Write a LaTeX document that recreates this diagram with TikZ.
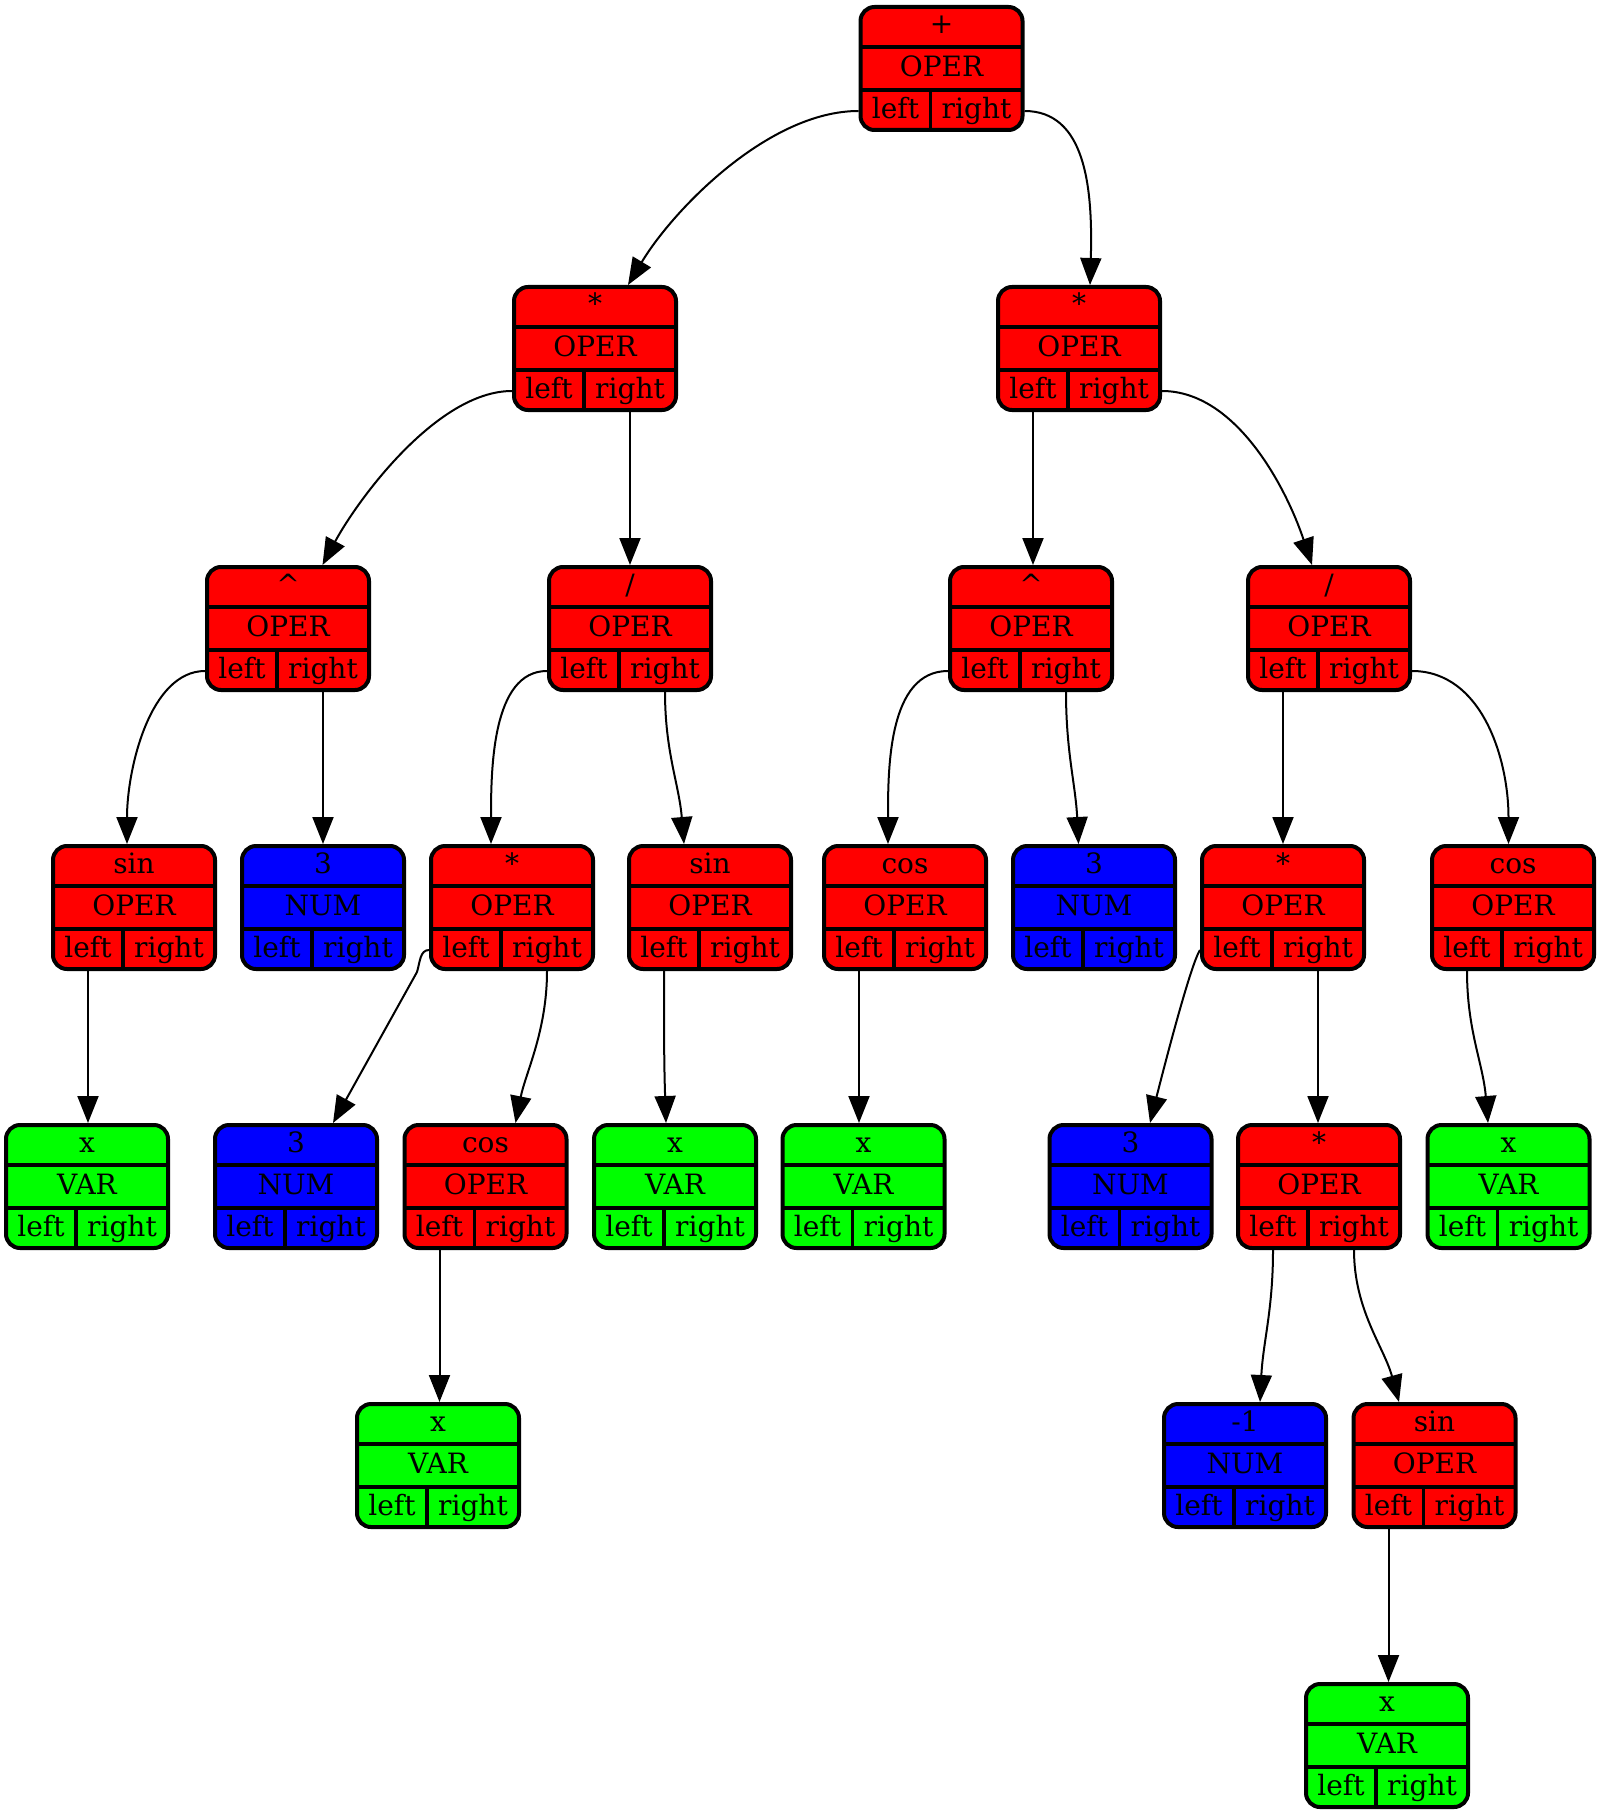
\documentclass[tikz,border=0pt]{standalone}
\usepackage{fontspec}
\setmainfont{DejaVu Serif}
\usetikzlibrary{calc,arrows.meta}
\definecolor{gvred}{RGB}{255,0,0}
\definecolor{gvblue}{RGB}{0,0,255}
\definecolor{gvgreen}{RGB}{0,255,0}
\tikzset{
 recbox/.style={draw=black, line width=2pt, rounded corners=7pt, minimum width=81pt, minimum height=61.5pt, inner sep=0pt},
 divider/.style={draw=black, line width=1.8pt},
 rectext/.style={anchor=base, inner sep=0pt, font=\fontsize{14pt}{16pt}\selectfont},
 link/.style={draw=black, line width=1pt, -{Triangle[length=13.5pt,width=10.5pt]}},
}
\newcommand\recnode[6]{%
  \node[recbox, fill=#4] (#1) at (#2,#3+63.5) {};
  \draw[divider] (#2-81,#3+42) -- (#2+81,#3+42) (#2-81,#3+85) -- (#2+81,#3+85) (#2-11,#3+85) -- (#2-11,#3+125);
  \node[rectext] (#1-t) at (#2,#3+29) {#5};
  \node[rectext] (#1-k) at (#2,#3+71.5) {#6};
  \node[rectext] (#1-a) at (#2-46,#3+113.5) {left};
  \node[rectext] (#1-b) at (#2+35,#3+113.5) {right};
  \coordinate (#1-l) at (#2-46,#3+127);
  \coordinate (#1-r) at (#2+35,#3+127);
  \coordinate (#1-lw) at (#2-83,#3+106);
  \coordinate (#1-re) at (#2+83,#3+106);
}
\begin{document}
\begin{tikzpicture}[x=0.5pt,y=-0.5pt]
\useasboundingbox (0,0) rectangle (1601,1813);
\recnode{root}{941.5}{5}{gvred}{+}{OPER}
\recnode{A}{595}{285}{gvred}{*}{OPER}
\recnode{B}{1079}{285}{gvred}{*}{OPER}
\recnode{C}{288}{565}{gvred}{\textasciicircum}{OPER}
\recnode{D}{630}{565}{gvred}{/}{OPER}
\recnode{E}{1031}{565}{gvred}{\textasciicircum}{OPER}
\recnode{F}{1329}{565}{gvred}{/}{OPER}
\recnode{G}{134}{844}{gvred}{sin}{OPER}
\recnode{H}{323}{844}{gvblue}{3}{NUM}
\recnode{I}{512}{844}{gvred}{*}{OPER}
\recnode{J}{710}{844}{gvred}{sin}{OPER}
\recnode{K}{905}{844}{gvred}{cos}{OPER}
\recnode{L}{1094}{844}{gvblue}{3}{NUM}
\recnode{M}{1283}{844}{gvred}{*}{OPER}
\recnode{N}{1513}{844}{gvred}{cos}{OPER}
\recnode{O}{87}{1123}{gvgreen}{x}{VAR}
\recnode{P}{296}{1123}{gvblue}{3}{NUM}
\recnode{Q}{485.5}{1123}{gvred}{cos}{OPER}
\recnode{R}{675}{1123}{gvgreen}{x}{VAR}
\recnode{S}{863.5}{1123}{gvgreen}{x}{VAR}
\recnode{T}{1130.5}{1123}{gvblue}{3}{NUM}
\recnode{U}{1319}{1123}{gvred}{*}{OPER}
\recnode{V}{1508.5}{1123}{gvgreen}{x}{VAR}
\recnode{W}{438}{1402}{gvgreen}{x}{VAR}
\recnode{X}{1245}{1402}{gvblue}{-1}{NUM}
\recnode{Y}{1434.5}{1402}{gvred}{sin}{OPER}
\recnode{Z}{1387}{1682}{gvgreen}{x}{VAR}
% edges
\draw[link] (root-lw) .. controls +(-90,0) and +(45,-75) .. ($(A.north)+(33,0)$);
\draw[link] (root-re) .. controls +(60,0) and +(3,-100) .. ($(B.north)+(11,0)$);
\draw[link] (A-lw) .. controls +(-75,0) and +(35,-65) .. ($(C.north)+(34.5,0)$);
\draw[link] (A-r) -- (A-r |- D.north);
\draw[link] (B-l) -- (B-l |- E.north);
\draw[link] (B-re) .. controls +(75,0) and +(-25,-75) .. ($(F.north)+(-17,0)$);
\draw[link] (C-lw) .. controls +(-55,0) and +(0,-75) .. ($(G.north)+(-7,0)$);
\draw[link] (C-r) -- (C-r |- H.north);
\draw[link] (D-lw) .. controls +(-55,0) and +(0,-75) .. ($(I.north)+(-21,0)$);
\draw[link] (D-r) .. controls +(0,60) and +(-5,-60) .. ($(J.north)+(-26,0)$);
\draw[link] (E-lw) .. controls +(-60,0) and +(0,-75) .. ($(K.north)+(-17,0)$);
\draw[link] (E-r) .. controls +(0,60) and +(-3,-60) .. ($(L.north)+(-15.5,0)$);
\draw[link] (F-l) -- (F-l |- M.north);
\draw[link] (F-re) .. controls +(70,0) and +(0,-85) .. ($(N.north)+(-4.5,0)$);
\draw[link] (G-l) -- (G-l |- O.north);
\draw[link] (I-lw) .. controls +(-9,0) and +(3,-10) .. ++(-12,22) -- ($(P.north)+(37,0)$);
\draw[link] (I-r) .. controls +(0,60) and +(10,-50) .. ($(Q.north)+(30,0)$);
\draw[link] (J-l) .. controls +(0,60) and +(-2,-60) .. ($(R.north)+(-9,0)$);
\draw[link] (K-l) -- (K-l |- S.north);
\draw[link] (M-lw) .. controls +(-10,15) and +(10,-40) .. ($(T.north)+(19.5,0)$);
\draw[link] (M-r) -- (M-r |- U.north);
\draw[link] (N-l) .. controls +(0,60) and +(-5,-60) .. ($(V.north)+(-20.5,0)$);
\draw[link] (Q-l) -- (Q-l |- W.north);
\draw[link] (U-l) .. controls +(0,60) and +(3,-60) .. ($(X.north)+(15,0)$);
\draw[link] (U-r) .. controls +(0,60) and +(-15,-55) .. ($(Y.north)+(-35.5,0)$);
\draw[link] (Y-l) -- (Y-l |- Z.north);
\end{tikzpicture}
\end{document}
